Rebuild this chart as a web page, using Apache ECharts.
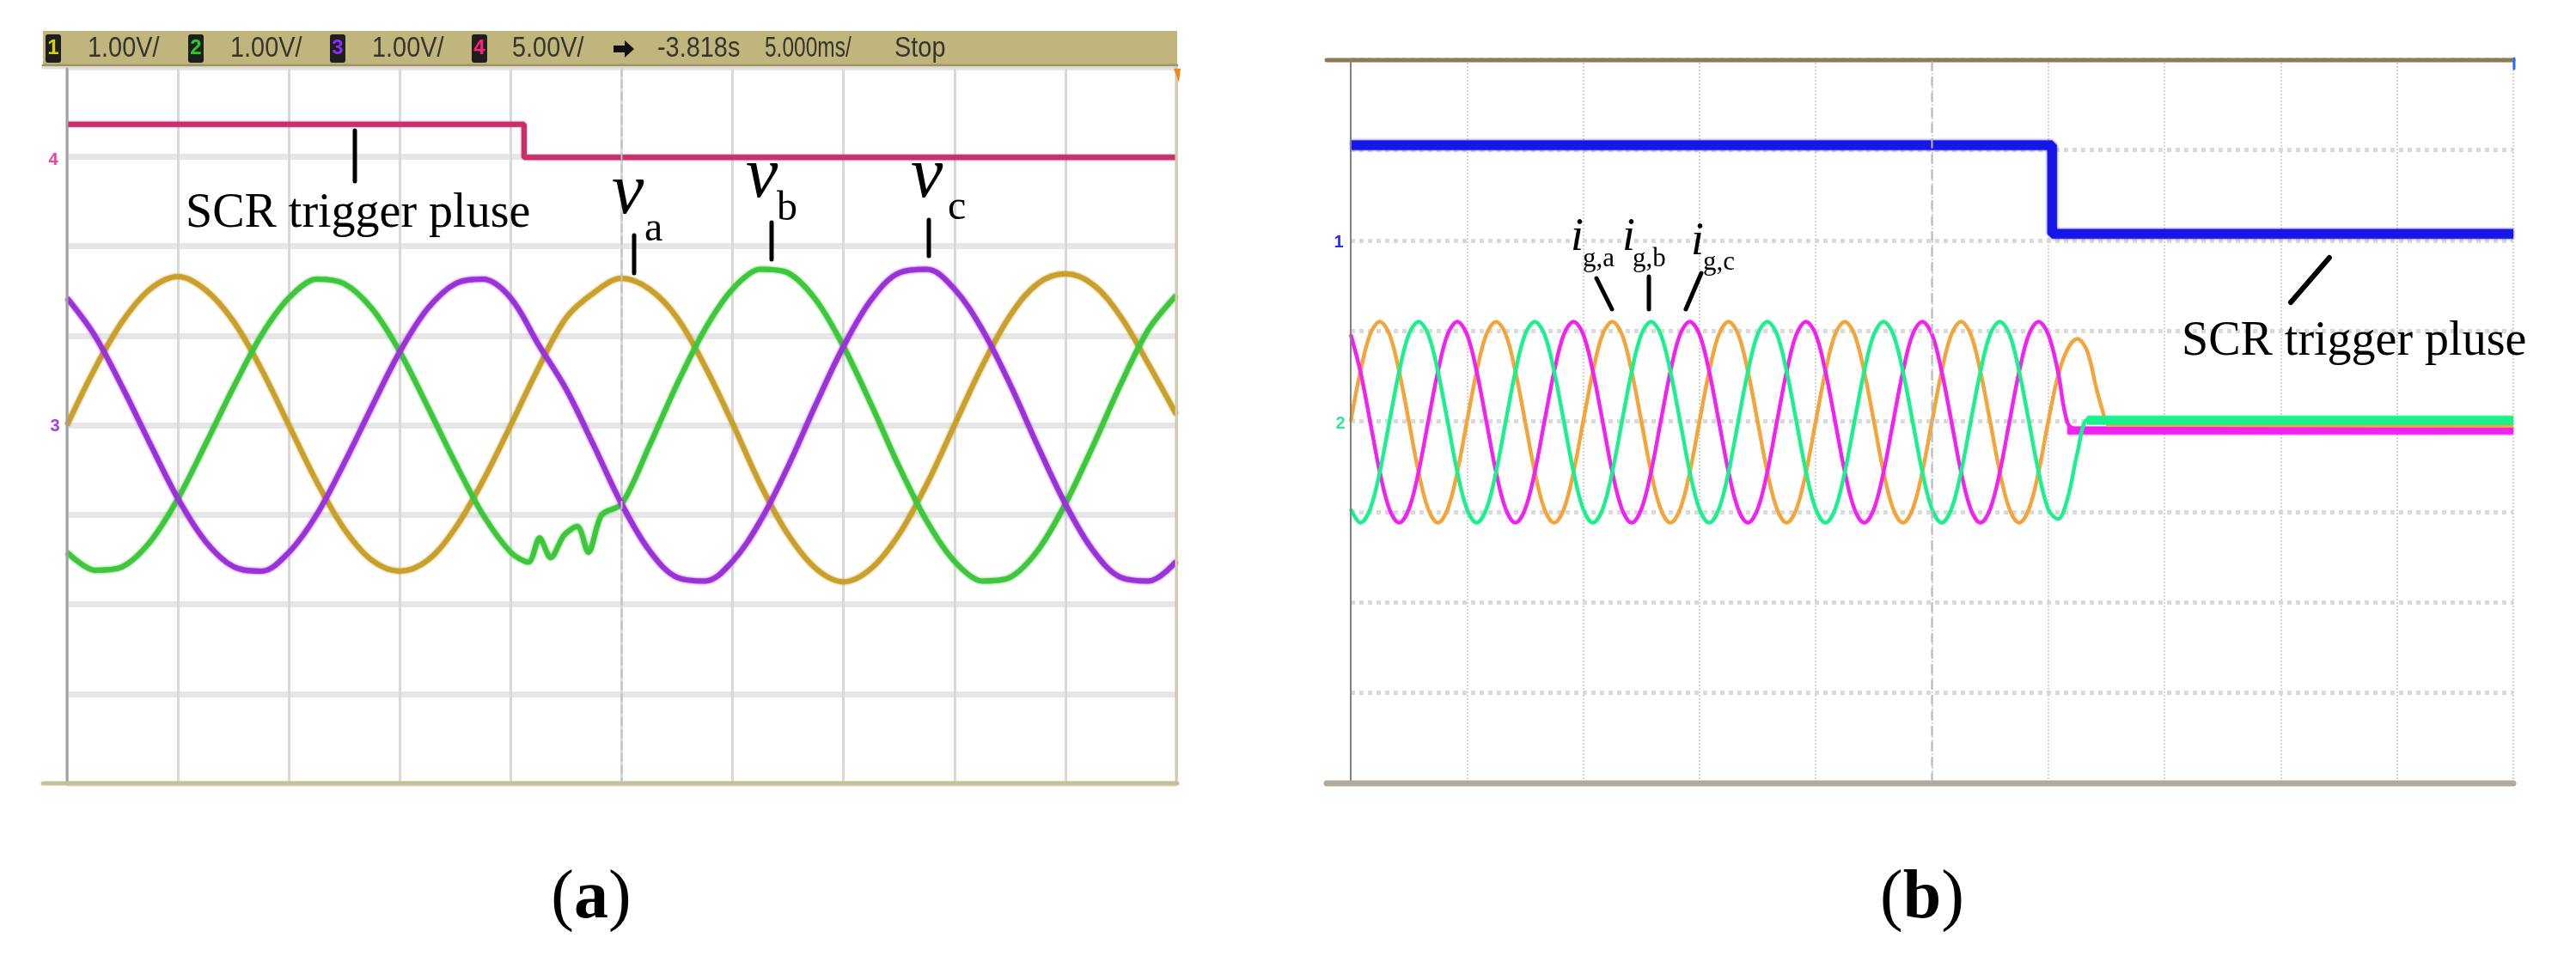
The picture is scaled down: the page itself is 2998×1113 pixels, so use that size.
<!DOCTYPE html>
<html>
<head>
<meta charset="utf-8">
<script src="https://cdn.jsdelivr.net/npm/echarts@6/dist/echarts.min.js"></script>
<style>
html,body{margin:0;padding:0;background:#fff;}
#chart{width:2998px;height:1113px;}
</style>
</head>
<body>
<div id="chart"></div>
<script>
// ---------- panel (a): time in ms (5 ms/div), values in divisions ----------
const tLeft = [0,1.25,2.5,3.75,5,6.25,7.5,8.75,10,11.25,12.5,13.75,15,16.25,17.5,18.75,20,21.25,22.5,23.75,25,26.25,27.5,28.75,30,31.25,32.5,33.75,35,36.25,37.5,38.75,40,41.25,42.5,43.75,45,46.25,47.5,48.75,50];
const vA = [0.00,0.63,1.16,1.52,1.66,1.51,1.16,0.63,0.00,-0.63,-1.16,-1.51,-1.63,-1.51,-1.15,-0.62,0.00,0.64,1.20,1.48,1.64,1.52,1.20,0.66,0.02,-0.66,-1.22,-1.60,-1.75,-1.60,-1.22,-0.66,0.00,0.66,1.22,1.58,1.69,1.57,1.21,0.68,0.12];
const vC = [1.42,1.00,0.42,-0.21,-0.82,-1.30,-1.58,-1.63,-1.42,-1.00,-0.42,0.21,0.82,1.30,1.58,1.63,1.42,0.90,0.40,-0.23,-0.88,-1.40,-1.70,-1.74,-1.52,-1.07,-0.46,0.23,0.88,1.40,1.70,1.74,1.52,1.07,0.46,-0.23,-0.88,-1.40,-1.70,-1.74,-1.52];
const tLeftB = [0,1.25,2.5,3.75,5,6.25,7.5,8.75,10,11.25,12.5,13.75,15,16.25,17.5,18.75,20,20.8,21.3,21.8,22.4,23.0,23.5,24.1,25,26.25,27.5,28.75,30,31.25,32.5,33.75,35,36.25,37.5,38.75,40,41.25,42.5,43.75,45,46.25,47.5,48.75,50];
const vB = [-1.42,-1.62,-1.58,-1.30,-0.82,-0.21,0.42,1.00,1.42,1.63,1.58,1.30,0.82,0.21,-0.42,-1.00,-1.42,-1.53,-1.26,-1.48,-1.23,-1.13,-1.42,-1.00,-0.88,-0.23,0.46,1.07,1.52,1.74,1.70,1.40,0.88,0.23,-0.46,-1.07,-1.52,-1.74,-1.70,-1.40,-0.88,-0.23,0.46,1.07,1.45];
const tPulseA = [0,20.6,20.6,50];
const pulseA = [3.36,3.36,2.99,2.99];

// ---------- panel (b): time in 1/12 div, values in divisions ----------
const tRight = [0,1,2,3,4,5,6,7,8,9,10,11,12,13,14,15,16,17,18,19,20,21,22,23,24,25,26,27,28,29,30,31,32,33,34,35,36,37,38,39,40,41,42,43,44,45,46,47,48,49,50,51,52,53,54,55,56,57,58,59,60,61,62,63,64,65,66,67,68,69,70,71,72,73,74,75,76,77,78];
const igA = [0.00,0.55,0.96,1.10,0.96,0.55,0.00,-0.56,-0.97,-1.12,-0.97,-0.56,
             0.00,0.55,0.96,1.10,0.96,0.55,0.00,-0.56,-0.97,-1.12,-0.97,-0.56,
             0.00,0.55,0.96,1.10,0.96,0.55,0.00,-0.56,-0.97,-1.12,-0.97,-0.56,
             0.00,0.55,0.96,1.10,0.96,0.55,0.00,-0.56,-0.97,-1.12,-0.97,-0.56,
             0.00,0.55,0.96,1.10,0.96,0.55,0.00,-0.56,-0.97,-1.12,-0.97,-0.56,
             0.00,0.55,0.96,1.10,0.96,0.55,0.00,-0.56,-0.97,-1.12,-0.97,-0.56,
             0.00,0.50,0.80,0.91,0.78,0.35,-0.03];
const igB = [-0.97,-1.12,-0.97,-0.56,0.00,0.55,0.96,1.10,0.96,0.55,0.00,-0.56,
             -0.97,-1.12,-0.97,-0.56,0.00,0.55,0.96,1.10,0.96,0.55,0.00,-0.56,
             -0.97,-1.12,-0.97,-0.56,0.00,0.55,0.96,1.10,0.96,0.55,0.00,-0.56,
             -0.97,-1.12,-0.97,-0.56,0.00,0.55,0.96,1.10,0.96,0.55,0.00,-0.56,
             -0.97,-1.12,-0.97,-0.56,0.00,0.55,0.96,1.10,0.96,0.55,0.00,-0.56,
             -0.97,-1.12,-0.97,-0.56,0.00,0.55,0.96,1.10,0.96,0.55,0.00,-0.56,
             -0.97,-1.08,-0.85,-0.35,0.02,0.03,0.03];
const igC = [0.96,0.55,0.00,-0.56,-0.97,-1.12,-0.97,-0.56,0.00,0.55,0.96,1.10,
             0.96,0.55,0.00,-0.56,-0.97,-1.12,-0.97,-0.56,0.00,0.55,0.96,1.10,
             0.96,0.55,0.00,-0.56,-0.97,-1.12,-0.97,-0.56,0.00,0.55,0.96,1.10,
             0.96,0.55,0.00,-0.56,-0.97,-1.12,-0.97,-0.56,0.00,0.55,0.96,1.10,
             0.96,0.55,0.00,-0.56,-0.97,-1.12,-0.97,-0.56,0.00,0.55,0.96,1.10,
             0.96,0.55,0.00,-0.56,-0.97,-1.12,-0.97,-0.56,0.00,0.55,0.96,1.10,
             0.96,0.55,-0.02,-0.09,-0.09,-0.09,-0.09];
const tTailA = [78,120], igATail = [-0.04,-0.05];
const tTailB = [76,120], igBTail = [0.01,0.01];
const tTailC = [74,120], igCTail = [-0.10,-0.10];
const tPulseB = [0,72.4,72.4,120];
const pulseB = [3.05,3.05,2.07,2.07];

// header texts of the scope in (a)
const headerTexts = ['1.00V/','1.00V/','1.00V/','5.00V/','-3.818s','5.000ms/','Stop'];

const pairs = (xs, ys) => xs.map((x, i) => [x, ys[i]]);

const chart = echarts.init(document.getElementById('chart'), null, {renderer:'canvas'});

const colA = {a:'#c9a02c', b:'#3ec63c', c:'#9a32d8', p:'#c8306c'};
const colB = {a:'#f2a53c', b:'#1cf08c', c:'#f022f0', p:'#1616e6'};

function line(name, data, xi, color, width, smooth, z, blur) {
  return {
    type:'line', name, data, xAxisIndex:xi, yAxisIndex:xi, symbol:'none',
    smooth: smooth, animation:false, silent:true, z: z || 2,
    lineStyle:{color, width, shadowBlur: blur || 0, shadowColor: color}
  };
}

const serif = '"Liberation Serif", "DejaVu Serif", serif';
const sans = '"Liberation Sans", Arial, sans-serif';

function txt(x, y, text, size, opts) {
  opts = opts || {};
  return {type:'text', x, y, z:100, scaleX: opts.scaleX || 1,
    style:{text, font: (opts.style||'') + ' ' + (opts.weight||'') + ' ' + size + 'px ' + (opts.family||serif),
      fill: opts.fill || '#000', textAlign: opts.align || 'left', textVerticalAlign:'middle'}};
}
function seg(x1,y1,x2,y2,color,w,dash) {
  return {type:'line', z:90, shape:{x1,y1,x2,y2}, style:{stroke:color, lineWidth:w, lineDash: dash || null, lineCap:'round'}};
}

const graphics = [];
// ----- panel (a) frame -----
graphics.push({type:'rect', z:80, shape:{x:50,y:36,width:1320,height:41}, style:{fill:'#c0b67d'}});
graphics.push(seg(50,76,1370,76,'#9e9566',3));
graphics.push(seg(50,79,1370,79,'#e2e0d6',3));
graphics.push(seg(78,80,78,912,'#a0a0a0',3));
graphics.push(seg(1369,78,1369,912,'#cfc8aa',3));
graphics.push(seg(50,912,1370,912,'#c8bf98',5));
graphics.push(seg(723.5,80,723.5,910,'#c4c4c4',2,[8,6]));
graphics.push({type:'polygon', z:90, shape:{points:[[1366,80],[1374,80],[1372,96]]}, style:{fill:'#f08a20'}});
// header channel boxes
const boxX = [53,219,384,549], boxCol = ['#d8d000','#22d022','#8a2cff','#ff1f80'];
boxX.forEach((bx, i) => {
  graphics.push({type:'rect', z:95, shape:{x:bx,y:40,width:18,height:33,r:3}, style:{fill:'#1e1e1e'}});
  graphics.push(txt(bx+9, 56, String(i+1), 24, {family:sans, weight:'bold', fill:boxCol[i], align:'center'}));
});
const hx = [102,268,433,596,765,890,1041];
const hs = [0.85,0.85,0.85,0.85,0.85,0.72,0.85];
headerTexts.forEach((t, i) => graphics.push(txt(hx[i], 57, t, 34, {family:sans, fill:'#35352c', scaleX:hs[i]})));
graphics.push({type:'polygon', z:95, shape:{points:[[714,53],[727,53],[727,47],[738,57],[727,67],[727,61],[714,61]]}, style:{fill:'#111'}});
// channel markers (a)
graphics.push(txt(62,186,'4',20,{family:sans, weight:'bold', fill:'#ff3c96', align:'center'}));
graphics.push(txt(64,496,'3',20,{family:sans, weight:'bold', fill:'#a040e0', align:'center'}));
// annotations (a)
graphics.push(seg(413,152,413,211,'#000',5));
graphics.push(txt(216,249,'SCR trigger pluse',56));
graphics.push(txt(712,226,'v',84,{style:'italic'}));
graphics.push(txt(750,267,'a',48));
graphics.push(txt(868,207,'v',84,{style:'italic'}));
graphics.push(txt(904,243,'b',48));
graphics.push(txt(1060,207,'v',84,{style:'italic'}));
graphics.push(txt(1103,242,'c',48));
graphics.push(seg(738,274,738,318,'#000',5));
graphics.push(seg(898,259,898,302,'#000',5));
graphics.push(seg(1081,256,1081,298,'#000',5));

// ----- panel (b) frame -----
graphics.push(seg(1544,70,2925,70,'#8c7b58',5));
graphics.push(seg(1572,70,1572,912,'#808080',2));
graphics.push(seg(1544,912,2925,912,'#b2a99c',7));
graphics.push(seg(2248.5,72,2248.5,908,'#b8b8b8',2,[10,8]));
graphics.push(seg(2926,68,2926,80,'#2a6cf0',3));
graphics.push(txt(1558,282,'1',20,{family:sans, weight:'bold', fill:'#2a2af0', align:'center'}));
graphics.push(txt(1560,493,'2',20,{family:sans, weight:'bold', fill:'#30e890', align:'center'}));
// annotations (b)
graphics.push(txt(1828,277,'i',54,{style:'italic'}));
graphics.push(txt(1842,302,'g,a',31));
graphics.push(txt(1888,277,'i',54,{style:'italic'}));
graphics.push(txt(1900,302,'g,b',31));
graphics.push(txt(1968,282,'i',54,{style:'italic'}));
graphics.push(txt(1982,306,'g,c',31));
graphics.push(seg(1858,324,1876,360,'#000',5));
graphics.push(seg(1919,322,1919,360,'#000',5));
graphics.push(seg(1980,318,1962,360,'#000',5));
graphics.push(txt(2539,398,'SCR trigger pluse',56));
graphics.push(seg(2711,300,2666,352,'#000',6));

// captions
graphics.push({type:'text', x:688, y:1047, z:100, style:{text:'{n|(}{b|a}{n|)}', textAlign:'center', textVerticalAlign:'middle',
  rich:{n:{font:'80px ' + serif, fill:'#000'}, b:{font:'bold 80px ' + serif, fill:'#000'}}}});
graphics.push({type:'text', x:2237, y:1047, z:100, style:{text:'{n|(}{b|b}{n|)}', textAlign:'center', textVerticalAlign:'middle',
  rich:{n:{font:'80px ' + serif, fill:'#000'}, b:{font:'bold 80px ' + serif, fill:'#000'}}}});

const hidden = {axisLine:{show:false}, axisTick:{show:false}, axisLabel:{show:false}};

const option = {
  backgroundColor:'#ffffff',
  animation:false,
  grid:[
    {left:78, top:78, width:1291, height:834},
    {left:1572, top:69, width:1353, height:843}
  ],
  xAxis:[
    Object.assign({type:'value', gridIndex:0, min:0, max:50, interval:5,
      splitLine:{show:true, lineStyle:{color:'#d9d9d9', width:3}}}, hidden),
    Object.assign({type:'value', gridIndex:1, min:0, max:120, interval:12,
      splitLine:{show:true, lineStyle:{color:'#d4d4d4', width:2, type:'dotted'}}}, hidden)
  ],
  yAxis:[
    Object.assign({type:'value', gridIndex:0, min:-4, max:4, interval:1,
      splitLine:{show:true, lineStyle:{color:'#e6e6e6', width:7}}}, hidden),
    Object.assign({type:'value', gridIndex:1, min:-4, max:4, interval:1,
      splitLine:{show:true, lineStyle:{color:'#dadada', width:5, type:'dotted'}}}, hidden)
  ],
  series:[
    line('pulse (a)', pairs(tPulseA, pulseA), 0, colA.p, 6, false, 3, 2),
    line('v_a', pairs(tLeft, vA), 0, colA.a, 6, 0.35, 4, 3),
    line('v_b', pairs(tLeftB, vB), 0, colA.b, 6, 0.3, 5, 3),
    line('v_c', pairs(tLeft, vC), 0, colA.c, 6, 0.35, 6, 3),
    line('pulse (b)', pairs(tPulseB, pulseB), 1, colB.p, 11, false, 3, 3),
    line('i_ga', pairs(tRight, igA), 1, colB.a, 4, 0.35, 4, 1),
    line('i_gc', pairs(tRight, igC), 1, colB.c, 4, 0.35, 5, 1),
    line('i_gb', pairs(tRight, igB), 1, colB.b, 4, 0.35, 6, 1),
    line('i_gc tail', pairs(tTailC, igCTail), 1, colB.c, 9, false, 5, 2),
    line('i_ga tail', pairs(tTailA, igATail), 1, colB.a, 4, false, 6, 1),
    line('i_gb tail', pairs(tTailB, igBTail), 1, colB.b, 10, false, 7, 2)
  ],
  graphic: graphics
};
chart.setOption(option);
</script>
</body>
</html>
